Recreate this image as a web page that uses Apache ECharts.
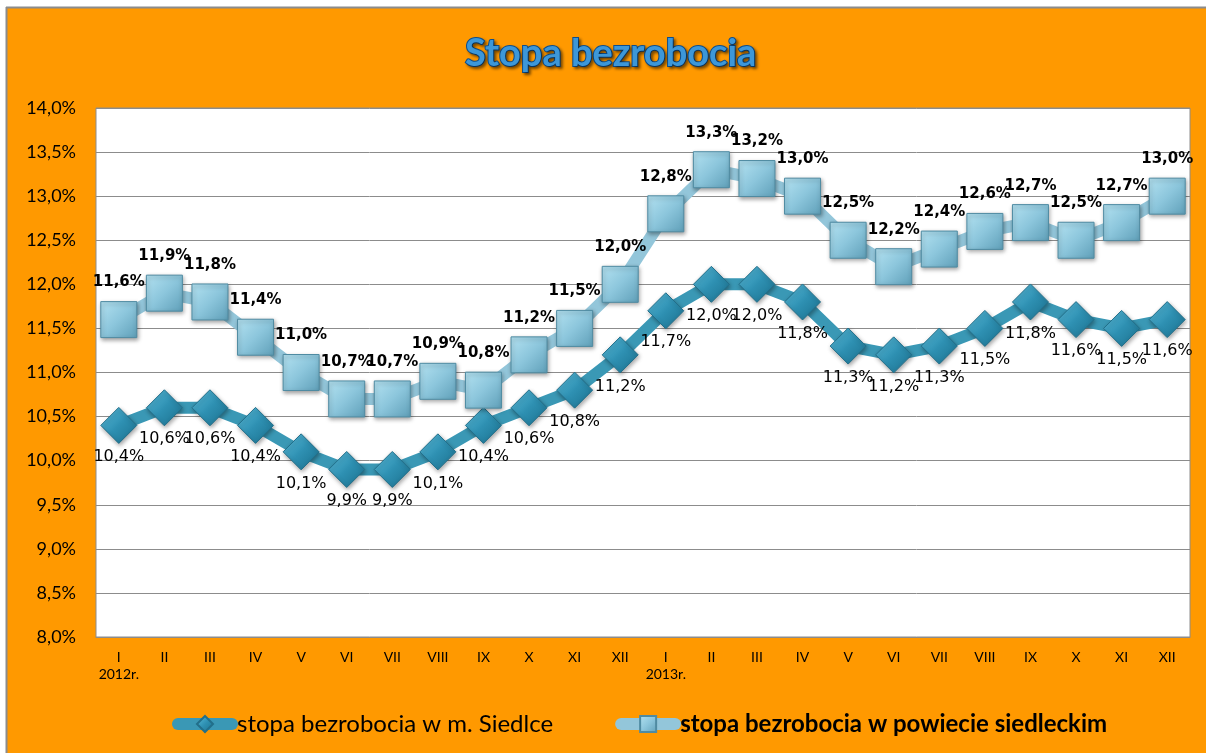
<!DOCTYPE html>
<html>
<head>
<meta charset="utf-8">
<script src="https://cdn.jsdelivr.net/npm/echarts@6/dist/echarts.min.js"></script>
<style>
html,body{margin:0;padding:0;background:#fff;}
#chart{width:1206px;height:753px;}
</style>
</head>
<body>
<div id="chart"></div>
<script>
const months = ['I','II','III','IV','V','VI','VII','VIII','IX','X','XI','XII','I','II','III','IV','V','VI','VII','VIII','IX','X','XI','XII'];
const yearLabels = ['2012r.','','','','','','','','','','','','2013r.','','','','','','','','','','',''];
const siedlce = [10.4,10.6,10.6,10.4,10.1,9.9,9.9,10.1,10.4,10.6,10.8,11.2,11.7,12.0,12.0,11.8,11.3,11.2,11.3,11.5,11.8,11.6,11.5,11.6];
const powiat = [11.6,11.9,11.8,11.4,11.0,10.7,10.7,10.9,10.8,11.2,11.5,12.0,12.8,13.3,13.2,13.0,12.5,12.2,12.4,12.6,12.7,12.5,12.7,13.0];
const seriesNames = ['stopa bezrobocia w m. Siedlce','stopa bezrobocia w powiecie siedleckim'];
const titleText = 'Stopa bezrobocia';

const categories = months.map((m,i)=> yearLabels[i] ? m + '\n' + yearLabels[i] : m);
const pct = v => v.toFixed(1).replace('.', ',') + '%';

const chart = echarts.init(document.getElementById('chart'));
chart.setOption({
  backgroundColor: '#FF9900',
  animation: false,
  graphic: [
    {type:'rect', shape:{x:0,y:0,width:1206,height:7}, style:{fill:'#ffffff'}, silent:true},
    {type:'rect', shape:{x:0,y:0,width:6,height:753}, style:{fill:'#ffffff'}, silent:true},
    {type:'line', shape:{x1:6,y1:7.5,x2:1206,y2:7.5}, style:{stroke:'#8c8c8c',lineWidth:2}, silent:true},
    {type:'line', shape:{x1:6.5,y1:7,x2:6.5,y2:753}, style:{stroke:'#8c8c8c',lineWidth:2}, silent:true}
  ],
  title: {
    text: titleText,
    left: 460,
    top: 30,
    textStyle: {
      fontFamily: 'Lato',
      fontWeight: 'bold',
      fontSize: 38,
      color: '#3d97d8',
      textBorderColor: '#0d4f8e',
      textBorderWidth: 2,
      textShadowColor: 'rgba(0,0,0,0.45)',
      textShadowBlur: 3,
      textShadowOffsetX: 2,
      textShadowOffsetY: 2
    }
  },
  legend: {
    top: 707,
    left: 167,
    itemGap: 62,
    itemWidth: 54,
    itemHeight: 20,
    lineStyle: {width: 12, cap: 'round'},
    textStyle: {fontFamily: 'Lato', fontSize: 24, color: '#000'},
    data: [
      {name: seriesNames[0]},
      {name: seriesNames[1], textStyle: {fontWeight: 'bold'}}
    ]
  },
  grid: {left: 96, right: 16, top: 108, bottom: 116, containLabel: false,
         show: true, backgroundColor: '#ffffff', borderColor: '#8c8c8c', borderWidth: 1},
  xAxis: {
    type: 'category',
    data: categories,
    boundaryGap: true,
    axisLine: {show: true, lineStyle: {color: '#8c8c8c'}},
    axisTick: {show: false},
    axisLabel: {
      color: '#000', fontFamily: 'Lato', fontSize: 14,
      margin: 12, lineHeight: 17, interval: 0
    }
  },
  yAxis: {
    type: 'value',
    min: 8, max: 14, interval: 0.5,
    axisLine: {show: false},
    axisTick: {show: false},
    splitLine: {lineStyle: {color: '#8c8c8c', width: 1}},
    axisLabel: {
      color: '#000', fontFamily: 'Lato', fontSize: 18,
      margin: 20, formatter: v => pct(v)
    }
  },
  series: [
    {
      name: seriesNames[0],
      type: 'line',
      data: siedlce,
      symbol: 'diamond',
      symbolSize: 36,
      z: 3,
      lineStyle: {color: '#3a98b5', width: 12},
      itemStyle: {
        color: new echarts.graphic.LinearGradient(0,0,1,1,[
          {offset:0,color:'#5ec0de'},{offset:0.5,color:'#2e90b2'},{offset:1,color:'#1a6f8c'}
        ]),
        borderColor: '#226f8a', borderWidth: 1,
        shadowColor: 'rgba(0,0,0,0.35)', shadowBlur: 4, shadowOffsetX: 1, shadowOffsetY: 2
      },
      label: {
        show: true, position: 'bottom', distance: 5,
        fontFamily: 'DejaVu Sans', fontSize: 16, color: '#000',
        formatter: p => pct(p.value)
      }
    },
    {
      name: seriesNames[1],
      type: 'line',
      data: powiat,
      symbol: 'rect',
      symbolSize: 36,
      z: 4,
      lineStyle: {color: '#93c6da', width: 12},
      itemStyle: {
        color: new echarts.graphic.LinearGradient(0,0,1,1,[
          {offset:0,color:'#b4e2f1'},{offset:0.5,color:'#8cc6dc'},{offset:1,color:'#5f9fb8'}
        ]),
        borderColor: '#4f8ba2', borderWidth: 1,
        shadowColor: 'rgba(0,0,0,0.35)', shadowBlur: 4, shadowOffsetX: 1, shadowOffsetY: 2
      },
      label: {
        show: true, position: 'top', distance: 11,
        fontFamily: 'DejaVu Sans', fontWeight: 'bold', fontSize: 15, color: '#000',
        formatter: p => pct(p.value)
      }
    }
  ]
});
</script>
</body>
</html>
